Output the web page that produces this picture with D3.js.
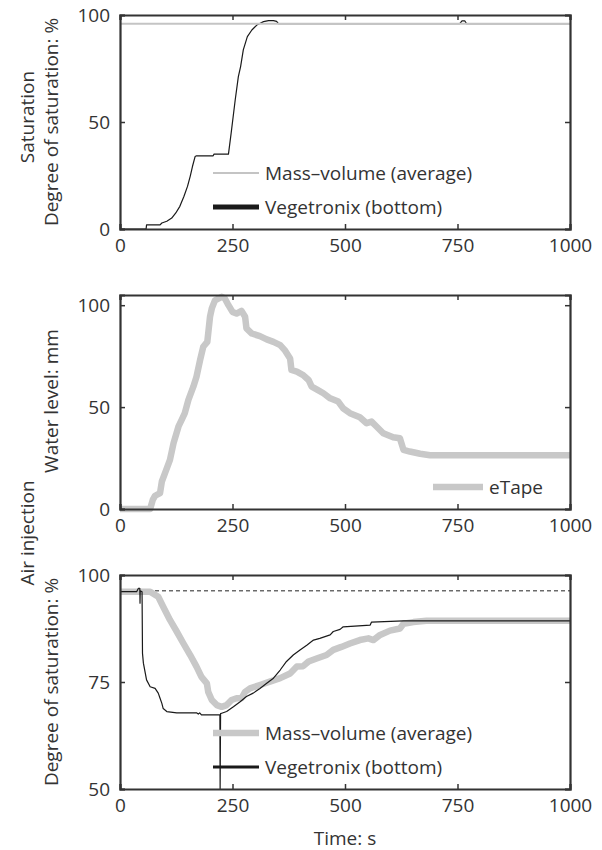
<!DOCTYPE html>
<html>
<head>
<meta charset="utf-8">
<script src="https://cdn.jsdelivr.net/npm/d3@7"></script>
<style>
  body { margin: 0; background: #fff; }
  text { font-family: "Open Sans", "Liberation Sans", sans-serif; fill: #333; }
</style>
</head>
<body>
<div id="chart"></div>
<script>
// ---- data ----
const timeTicks = [0, 250, 500, 750, 1000];

// Saturation panel
const satTicks = [0, 50, 100];
const satMassTime = [0, 1000];
const satMassValue = [95.9, 95.9];
const satVegTime = [0, 58, 59, 89, 93, 104, 115, 124, 133, 142, 150, 156, 161, 167, 170, 207, 209, 241, 247, 256, 263, 268, 274, 283, 293, 304, 319, 330, 341, 348, 352, 755, 760, 766, 770, 1000];
const satVegValue = [0, 0, 1.9, 1.9, 2.8, 3.6, 5.1, 7.5, 10.6, 15.2, 19.9, 24.6, 29.2, 33.9, 34.2, 34.2, 35, 35, 44.8, 60.3, 71.2, 75.9, 83.7, 89.9, 93, 95.3, 96.9, 97.4, 97.4, 97, 96, 96, 97.3, 97.3, 96, 96];

// Water level panel
const levelTicks = [0, 50, 100];
const etapeTime = [0, 67, 73, 78, 89, 93, 100, 111, 119, 130, 137, 144, 152, 163, 170, 178, 185, 194, 200, 204, 211, 226, 233, 241, 250, 259, 270, 278, 281, 293, 311, 326, 341, 356, 367, 378, 381, 393, 407, 419, 426, 437, 452, 467, 485, 496, 511, 533, 548, 559, 570, 585, 607, 622, 630, 644, 667, 689, 1000];
const etapeValue = [0, 0, 4.6, 6.5, 7.8, 13.5, 17.6, 24.1, 32.3, 40.5, 43.7, 47, 53.5, 60, 64.9, 73.1, 79.6, 82, 94.3, 98.4, 102.4, 104.1, 103.3, 100, 96.7, 95.9, 97.2, 94.3, 88.6, 86.1, 84.8, 83.2, 82, 80.4, 77.7, 73.9, 68.2, 67.4, 65.7, 63.3, 60, 58.7, 56.8, 54.3, 52.7, 49.4, 47, 45, 42.1, 42.9, 40.5, 37.2, 35.2, 34.7, 29, 28.2, 27.1, 26.4, 26.4];

// Air injection panel
const airTicks = [50, 75, 100];
const airRefTime = [0, 1000];
const airRefValue = [96.3, 96.3];
const airMassTime = [0, 67, 85, 96, 111, 126, 141, 156, 170, 181, 193, 196, 204, 215, 226, 237, 248, 259, 270, 278, 289, 311, 333, 356, 378, 393, 407, 419, 437, 459, 474, 492, 511, 533, 552, 563, 578, 600, 622, 630, 652, 681, 1000];
const airMassValue = [96.1, 96.1, 94.9, 92.6, 89.5, 86.8, 84, 81.3, 78.6, 76.2, 74.7, 72.7, 70.8, 69.6, 69.2, 69.6, 70.8, 71.2, 71.2, 72.7, 73.5, 74.3, 75.1, 75.9, 77, 78.6, 78.7, 79.8, 80.5, 81.3, 82.5, 83.2, 84, 84.8, 85.2, 84.8, 86, 87, 87.5, 88.6, 89, 89.3, 89.3];
const airVegTime = [0, 37, 41, 44, 44.5, 45, 49, 50, 52, 59, 67, 78, 85, 89, 93, 96, 104, 126, 170, 174, 177, 181, 222, 222.5, 223.5, 226, 237, 252, 267, 281, 296, 311, 326, 341, 356, 370, 385, 400, 415, 430, 444, 467, 474, 489, 496, 556, 559, 630, 1000];
const airVegValue = [96.1, 96.1, 96.9, 96.9, 93.4, 96.3, 96.1, 81.7, 79.4, 75.5, 73.9, 73.5, 72.4, 71.2, 70, 68.8, 68.1, 67.8, 67.8, 67.5, 67.8, 67.3, 67.3, 50, 67.6, 67.7, 68.1, 69.2, 70.4, 71.6, 72.4, 73.5, 74.7, 75.9, 77.8, 79.8, 81.3, 82.5, 83.6, 84.8, 85.2, 86, 86.8, 87.3, 87.9, 88.3, 89, 89.3, 89.3];

const zip = (xs, ys) => xs.map((t, i) => ({ t: t, v: ys[i] }));

const W = 602, H = 850;
const svg = d3.select("#chart").append("svg")
    .attr("width", W)
    .attr("height", H);

const x = d3.scaleLinear().domain([0, 1000]).range([120, 570]);
const frameColor = "#333";
const lightGray = "#c8c8c8";
const fmt = d3.format("d");

function drawPanel(p) {
    const y = d3.scaleLinear().domain(p.domain).range([p.bottom, p.top]);
    const g = svg.append("g");
    const line = d3.line().x(d => x(d.t)).y(d => y(d.v));

    // series
    p.series.forEach(s => {
        const path = g.append("path")
            .datum(zip(s.time, s.value))
            .attr("fill", "none")
            .attr("stroke", s.color)
            .attr("stroke-width", s.width)
            .attr("stroke-linejoin", "round")
            .attr("d", line);
        if (s.dash) path.attr("stroke-dasharray", s.dash);
    });

    // frame with inward ticks on all sides
    const ax = [
        { axis: d3.axisBottom(x).tickValues(timeTicks).tickFormat(fmt).tickSize(-5).tickPadding(10), tr: `translate(0,${p.bottom})` },
        { axis: d3.axisTop(x).tickValues(timeTicks).tickSize(-5).tickFormat(""), tr: `translate(0,${p.top})` },
        { axis: d3.axisLeft(y).tickValues(p.ticks).tickFormat(fmt).tickSize(-5).tickPadding(10), tr: `translate(120,0)` },
        { axis: d3.axisRight(y).tickValues(p.ticks).tickSize(-5).tickFormat(""), tr: `translate(570,0)` }
    ];
    ax.forEach(a => {
        const ag = g.append("g").attr("transform", a.tr).call(a.axis);
        ag.select(".domain").attr("stroke", frameColor).attr("stroke-width", 2.2);
        ag.selectAll(".tick line").attr("stroke", frameColor).attr("stroke-width", 1.5);
        ag.selectAll("text")
            .attr("font-family", "'Open Sans', sans-serif")
            .attr("font-size", 19)
            .attr("fill", "#333");
    });

    // y labels
    p.ylabels.forEach(l => {
        g.append("text")
            .attr("transform", `translate(${l.x},${l.y}) rotate(-90)`)
            .attr("text-anchor", "middle")
            .attr("font-size", 19)
            .text(l.text);
    });

    // legend
    p.legend.forEach(l => {
        g.append("line")
            .attr("x1", 213).attr("x2", 259)
            .attr("y1", l.y).attr("y2", l.y)
            .attr("stroke", l.color)
            .attr("stroke-width", l.width);
        g.append("text")
            .attr("x", l.x || 265)
            .attr("y", l.y)
            .attr("dy", "0.35em")
            .attr("font-size", 19)
            .text(l.text);
    });
}

drawPanel({
    domain: [0, 100], top: 15, bottom: 229, ticks: satTicks,
    series: [
        { time: satVegTime, value: satVegValue, color: "#1a1a1a", width: 1.2 },
        { time: satMassTime, value: satMassValue, color: "#c4c4c4", width: 2 }
    ],
    ylabels: [
        { text: "Saturation", x: 34, y: 117 },
        { text: "Degree of saturation: %", x: 58, y: 122 }
    ],
    legend: [
        { text: "Mass\u2013volume (average)", y: 173, color: "#c4c4c4", width: 2 },
        { text: "Vegetronix (bottom)", y: 207, color: "#1a1a1a", width: 5 }
    ]
});

drawPanel({
    domain: [0, 105], top: 295, bottom: 509, ticks: levelTicks,
    series: [
        { time: etapeTime, value: etapeValue, color: lightGray, width: 6.5 }
    ],
    ylabels: [
        { text: "Water level: mm", x: 58, y: 401 }
    ],
    legend: []
});

// eTape legend sits to the right
svg.append("line")
    .attr("x1", 433).attr("x2", 483)
    .attr("y1", 487).attr("y2", 487)
    .attr("stroke", lightGray)
    .attr("stroke-width", 6.5);
svg.append("text")
    .attr("x", 489).attr("y", 487).attr("dy", "0.35em")
    .attr("font-size", 19)
    .text("eTape");

drawPanel({
    domain: [50, 100], top: 575, bottom: 789, ticks: airTicks,
    series: [
        { time: airRefTime, value: airRefValue, color: "#222", width: 1, dash: "4,3" },
        { time: airMassTime, value: airMassValue, color: lightGray, width: 6.5 },
        { time: airVegTime, value: airVegValue, color: "#1a1a1a", width: 1.2 }
    ],
    ylabels: [
        { text: "Air injection", x: 34, y: 533 },
        { text: "Degree of saturation: %", x: 58, y: 682 }
    ],
    legend: [
        { text: "Mass\u2013volume (average)", y: 733, color: lightGray, width: 6.5 },
        { text: "Vegetronix (bottom)", y: 767, color: "#1a1a1a", width: 3 }
    ]
});

// x-axis title
svg.append("text")
    .attr("x", 345)
    .attr("y", 845)
    .attr("text-anchor", "middle")
    .attr("font-size", 19)
    .text("Time: s");
</script>
</body>
</html>
